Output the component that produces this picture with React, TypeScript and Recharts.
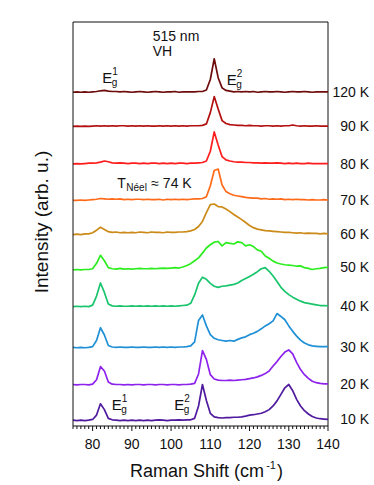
import React from "react";
import { LineChart, Line, XAxis, YAxis, ReferenceDot, ReferenceLine, LabelList } from "recharts";

// Raman shift grid (cm-1)
const shift = [
  75, 76, 77, 78, 79, 80, 81, 82, 83, 84,
  85, 86, 87, 88, 89, 90, 91, 92, 93, 94,
  95, 96, 97, 98, 99, 100, 101, 102, 103, 104,
  105, 106, 107, 108, 109, 110, 111, 112, 113, 114,
  115, 116, 117, 118, 119, 120, 121, 122, 123, 124,
  125, 126, 127, 128, 129, 130, 131, 132, 133, 134,
  135, 136, 137, 138, 139, 140,
];

// intensity above each trace's own baseline
const t10 = [
  0.01, 0.0, 0.01, 0.0, 0.01, 0.03, 0.15, 0.46, 0.3, 0.06,
  0.02, 0.01, 0.0, 0.01, 0.0, 0.01, 0.0, 0.01, 0.0, 0.01,
  0.0, 0.01, 0.02, 0.01, 0.0, 0.01, 0.01, 0.02, 0.01, 0.02,
  0.02, 0.06, 0.4, 0.99, 0.55, 0.2, 0.1, 0.08, 0.07, 0.08,
  0.08, 0.09, 0.09, 0.1, 0.12, 0.15, 0.16, 0.18, 0.2, 0.24,
  0.3, 0.4, 0.54, 0.72, 0.9, 0.99, 0.82, 0.58, 0.4, 0.27,
  0.18, 0.11, 0.07, 0.05, 0.04, 0.03,
];
const t20 = [
  0.01, 0.0, 0.01, 0.01, 0.0, 0.02, 0.14, 0.5, 0.38, 0.08,
  0.02, 0.01, 0.01, 0.0, 0.01, 0.0, 0.01, 0.01, 0.0, 0.01,
  0.01, 0.0, 0.01, 0.01, 0.0, 0.01, 0.01, 0.0, 0.01, 0.01,
  0.02, 0.04, 0.3, 0.94, 0.7, 0.28, 0.16, 0.13, 0.12, 0.12,
  0.13, 0.12, 0.13, 0.14, 0.15, 0.17, 0.19, 0.22, 0.26, 0.31,
  0.38, 0.52, 0.64, 0.78, 0.9, 0.96, 0.85, 0.62, 0.42, 0.28,
  0.18, 0.1, 0.06, 0.04, 0.03, 0.03,
];
const t30 = [
  0.01, 0.0, 0.01, 0.0, 0.01, 0.03, 0.2, 0.55, 0.35, 0.06,
  0.02, 0.01, 0.02, 0.01, 0.01, 0.02, 0.01, 0.01, 0.02, 0.01,
  0.01, 0.02, 0.01, 0.02, 0.01, 0.02, 0.01, 0.02, 0.02, 0.03,
  0.05, 0.16, 0.75, 0.9, 0.6, 0.36, 0.26, 0.22, 0.2, 0.18,
  0.2, 0.18, 0.23, 0.27, 0.3, 0.36, 0.4, 0.45, 0.52, 0.6,
  0.66, 0.74, 0.94, 0.86, 0.77, 0.6, 0.45, 0.32, 0.21, 0.13,
  0.08, 0.05, 0.04, 0.03, 0.03, 0.03,
];
const t40 = [
  0.01, 0.02, 0.01, 0.02, 0.01, 0.05, 0.3, 0.66, 0.4, 0.08,
  0.03, 0.02, 0.03, 0.02, 0.02, 0.03, 0.02, 0.03, 0.02, 0.03,
  0.02, 0.03, 0.02, 0.03, 0.02, 0.03, 0.02, 0.03, 0.04, 0.05,
  0.1, 0.33, 0.65, 0.82, 0.76, 0.65, 0.57, 0.54, 0.57, 0.58,
  0.6, 0.62, 0.66, 0.73, 0.78, 0.84, 0.9, 0.97, 1.05, 1.08,
  0.98, 0.85, 0.7, 0.54, 0.43, 0.34, 0.27, 0.21, 0.16, 0.12,
  0.1, 0.08, 0.06, 0.04, 0.04, 0.03,
];
const t50 = [
  0.0, 0.01, 0.0, 0.01, 0.01, 0.03, 0.18, 0.4, 0.25, 0.06,
  0.03, 0.02, 0.04, 0.02, 0.03, 0.02, 0.03, 0.04, 0.03, 0.03,
  0.04, 0.03, 0.04, 0.05, 0.04, 0.05, 0.06, 0.05, 0.08, 0.12,
  0.17, 0.25, 0.33, 0.46, 0.6, 0.69, 0.76, 0.78, 0.66, 0.75,
  0.73, 0.71, 0.77, 0.75, 0.66, 0.69, 0.64, 0.55, 0.51, 0.38,
  0.32, 0.24, 0.19, 0.16, 0.14, 0.13, 0.12, 0.1, 0.11, 0.06,
  0.04, 0.01, 0.03, 0.04, 0.06, 0.07,
];
const t60 = [
  0.0, 0.01, 0.0, 0.02, 0.02, 0.05, 0.12, 0.2, 0.14, 0.08,
  0.06, 0.07, 0.05, 0.06, 0.05, 0.06, 0.05, 0.07, 0.06, 0.05,
  0.07, 0.06, 0.06, 0.05, 0.07, 0.06, 0.06, 0.07, 0.07, 0.08,
  0.1, 0.14, 0.22, 0.36, 0.6, 0.82, 0.84, 0.77, 0.76, 0.7,
  0.63, 0.55, 0.48, 0.41, 0.33, 0.25, 0.19, 0.15, 0.13, 0.11,
  0.1, 0.09, 0.08, 0.07, 0.06, 0.06, 0.05, 0.04, 0.05, 0.03,
  0.04, 0.03, 0.03, 0.02, 0.03, 0.02,
];
const t70 = [
  0.0, 0.0, 0.01, 0.0, 0.01, 0.02, 0.03, 0.05, 0.04, 0.03,
  0.04, 0.03, 0.04, 0.02, 0.03, 0.02, 0.03, 0.03, 0.02, 0.03,
  0.02, 0.02, 0.03, 0.01, 0.03, 0.02, 0.03, 0.02, 0.03, 0.02,
  0.03, 0.04, 0.04, 0.05, 0.1, 0.4, 0.82, 0.86, 0.42, 0.24,
  0.18, 0.14, 0.12, 0.1, 0.08, 0.07, 0.06, 0.06, 0.04, 0.05,
  0.03, 0.04, 0.03, 0.04, 0.02, 0.03, 0.02, 0.03, 0.02, 0.02,
  0.01, 0.02, 0.01, 0.01, 0.02, 0.01,
];
const t80 = [
  0.0, 0.01, 0.0, 0.01, 0.02, 0.02, 0.03, 0.05, 0.08, 0.06,
  0.03, 0.02, 0.03, 0.02, 0.01, 0.02, 0.02, 0.01, 0.02, 0.01,
  0.02, 0.02, 0.01, 0.02, 0.01, 0.02, 0.01, 0.02, 0.02, 0.01,
  0.02, 0.02, 0.03, 0.04, 0.08, 0.35, 0.88, 0.52, 0.2, 0.11,
  0.08, 0.06, 0.05, 0.05, 0.04, 0.04, 0.03, 0.03, 0.02, 0.03,
  0.02, 0.02, 0.03, 0.02, 0.01, 0.02, 0.01, 0.02, 0.01, 0.01,
  0.02, 0.01, 0.01, 0.01, 0.01, 0.01,
];
const t90 = [
  0.0, 0.01, 0.0, 0.01, 0.0, 0.01, 0.02, 0.01, 0.02, 0.01,
  0.02, 0.01, 0.02, 0.02, 0.01, 0.02, 0.01, 0.02, 0.01, 0.02,
  0.01, 0.01, 0.02, 0.01, 0.02, 0.01, 0.02, 0.01, 0.02, 0.01,
  0.02, 0.02, 0.02, 0.03, 0.07, 0.38, 0.82, 0.48, 0.16, 0.08,
  0.05, 0.04, 0.03, 0.03, 0.02, 0.03, 0.02, 0.02, 0.01, 0.02,
  0.02, 0.01, 0.02, 0.01, 0.02, 0.02, 0.04, 0.02, 0.01, 0.02,
  0.01, 0.01, 0.02, 0.01, 0.01, 0.01,
];
const t120 = [
  0.0, 0.01, 0.0, 0.01, 0.0, 0.01, 0.02, 0.04, 0.05, 0.03,
  0.02, 0.02, 0.01, 0.02, 0.01, 0.0, 0.01, 0.02, 0.01, 0.0,
  0.01, 0.02, 0.01, 0.0, 0.01, 0.01, 0.02, 0.0, 0.01, 0.01,
  0.01, 0.01, 0.02, 0.02, 0.06, 0.35, 0.92, 0.4, 0.12, 0.05,
  0.03, 0.01, 0.02, 0.01, 0.02, 0.01, 0.02, 0.0, 0.01, 0.02,
  0.01, 0.01, 0.02, 0.01, 0.0, 0.01, 0.02, 0.01, 0.01, 0.02,
  0.01, 0.0, 0.01, 0.01, 0.01, 0.01,
];

const temps = ["10 K", "20 K", "30 K", "40 K", "50 K", "60 K", "70 K", "80 K", "90 K", "120 K"];
const offsets = [0.05, 1.03, 2.05, 3.17, 4.19, 5.16, 6.1, 7.1, 8.13, 9.07];
const majorTicks = [80, 90, 100, 110, 120, 130, 140];
const yTicks = [0, 2, 4, 6, 8, 10];

const colours = [
  "#4f1a9e", "#8d22ec", "#1f8fd6", "#18c46c", "#2ced1e",
  "#cc8a18", "#ff6a18", "#ff1c1c", "#b30f0f", "#6e0b0b",
];
const ink = "#111";
const font = "'Liberation Sans', Arial, Helvetica, sans-serif";

const spectra = [t10, t20, t30, t40, t50, t60, t70, t80, t90, t120];
const data = shift.map((x, i) => {
  const row: Record<string, number> = { x };
  spectra.forEach((s, k) => {
    row[`s${k}`] = s[i] + offsets[k];
  });
  return row;
});

function ShiftTick({ x, y, payload }: any) {
  const major = majorTicks.includes(payload.value);
  return (
    <g>
      <line x1={x} x2={x} y1={y} y2={y + (major ? 5 : 3)} stroke={ink} strokeWidth={1} />
      {major && (
        <text x={x} y={y + 23} textAnchor="middle" fontSize={14} fill={ink} fontFamily={font}>
          {payload.value}
        </text>
      )}
    </g>
  );
}

function XTitle({ viewBox }: any) {
  const cx = viewBox.x + viewBox.width / 2 + 6;
  return (
    <text x={cx} y={viewBox.y + 51} textAnchor="middle" fontSize={18} fill={ink} fontFamily={font}>
      <tspan>Raman Shift (cm</tspan>
      <tspan dx={2} dy={-8} fontSize={11}>-1</tspan>
      <tspan dx={1} dy={8}>)</tspan>
    </text>
  );
}

function YTitle({ viewBox }: any) {
  const cy = viewBox.y + viewBox.height / 2 - 2;
  return (
    <text
      x={48}
      y={cy}
      transform={`rotate(-90 48 ${cy})`}
      textAnchor="middle"
      fontSize={19}
      fill={ink}
      fontFamily={font}
    >
      Intensity (arb. u.)
    </text>
  );
}

function anchor(viewBox: any) {
  const x = viewBox.cx ?? viewBox.x + (viewBox.width || 0) / 2;
  const y = viewBox.cy ?? viewBox.y + (viewBox.height || 0) / 2;
  return { x, y };
}

function Mode({ viewBox, n }: any) {
  const { x, y } = anchor(viewBox);
  return (
    <g fontFamily={font} fill={ink}>
      <text x={x} y={y} fontSize={15}>E</text>
      <text x={x + 10} y={y - 8} fontSize={10}>{n}</text>
      <text x={x + 9.5} y={y + 3} fontSize={10}>g</text>
    </g>
  );
}

function Neel({ viewBox }: any) {
  const { x, y } = anchor(viewBox);
  return (
    <g fontFamily={font} fill={ink}>
      <text x={x} y={y} fontSize={14}>T</text>
      <text x={x + 9} y={y + 3} fontSize={10}>Néel</text>
      <text x={x + 34} y={y} fontSize={14}>≈ 74 K</text>
    </g>
  );
}

function Setup({ viewBox }: any) {
  const { x, y } = anchor(viewBox);
  return (
    <g fontFamily={font} fill={ink} fontSize={14}>
      <text x={x} y={y}>515 nm</text>
      <text x={x} y={y + 15}>VH</text>
    </g>
  );
}

export default function App() {
  const last = shift.length - 1;
  return (
    <div style={{ position: "absolute", left: 0, top: 0, background: "#fff" }}>
      <LineChart
        width={374}
        height={485}
        data={data}
        margin={{ top: 22, right: 46, bottom: 0, left: 0 }}
      >
        <XAxis
          dataKey="x"
          type="number"
          domain={[75, 140]}
          ticks={shift}
          interval={0}
          tickSize={0}
          tickMargin={0}
          tickLine={false}
          tick={<ShiftTick />}
          axisLine={{ stroke: ink, strokeWidth: 1 }}
          height={59}
          label={<XTitle />}
        />
        <YAxis
          type="number"
          domain={[-0.1, 11]}
          ticks={yTicks}
          tick={false}
          tickSize={7}
          tickLine={{ stroke: ink, strokeWidth: 1 }}
          axisLine={{ stroke: ink, strokeWidth: 1 }}
          width={73}
          label={<YTitle />}
        />
        {/* frame: top and right edges */}
        <ReferenceLine y={11} stroke={ink} strokeWidth={1} />
        <ReferenceLine x={140} stroke={ink} strokeWidth={1} />
        {spectra.map((_, k) => (
          <Line
            key={temps[k]}
            type="linear"
            dataKey={`s${k}`}
            stroke={colours[k]}
            strokeWidth={1.7}
            strokeLinejoin="round"
            dot={false}
            isAnimationActive={false}
          >
            <LabelList
              dataKey={`s${k}`}
              content={(p: any) =>
                p.index === last ? (
                  <text
                    x={p.x + 41}
                    y={p.y + 5}
                    textAnchor="end"
                    fontSize={14}
                    fill={ink}
                    fontFamily={font}
                  >
                    {temps[k]}
                  </text>
                ) : null
              }
            />
          </Line>
        ))}
        <ReferenceDot x={95.3} y={10.48} r={0} fill="none" stroke="none" label={<Setup />} />
        <ReferenceDot x={82.47} y={9.33} r={0} fill="none" stroke="none" label={<Mode n={1} />} />
        <ReferenceDot x={114.18} y={9.27} r={0} fill="none" stroke="none" label={<Mode n={2} />} />
        <ReferenceDot x={86.29} y={6.45} r={0} fill="none" stroke="none" label={<Neel />} />
        <ReferenceDot x={84.86} y={0.34} r={0} fill="none" stroke="none" label={<Mode n={1} />} />
        <ReferenceDot x={100.82} y={0.34} r={0} fill="none" stroke="none" label={<Mode n={2} />} />
      </LineChart>
    </div>
  );
}
